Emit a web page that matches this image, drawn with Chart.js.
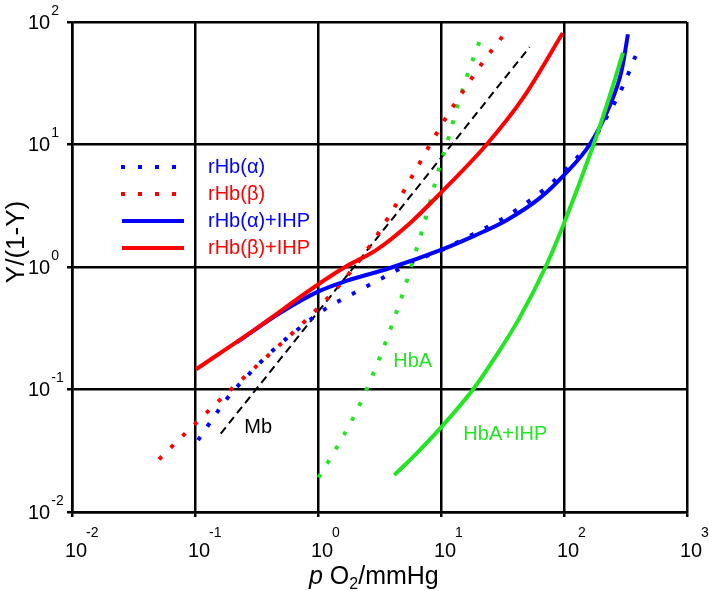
<!DOCTYPE html>
<html>
<head>
<meta charset="utf-8">
<script src="https://cdn.jsdelivr.net/npm/chart.js@4.4.0/dist/chart.umd.min.js"></script>
<style>
  html, body { margin: 0; padding: 0; background: #fff; }
  #wrap { width: 709px; height: 591px; }
</style>
</head>
<body>
<div id="wrap"><canvas id="hill-chart" width="709" height="591"></canvas></div>
<script>
// Hill plot: pO2 (mmHg) against Y/(1-Y)
var decades = [0.01, 0.1, 1, 10, 100, 1000]
var yDecades = [0.01, 0.1, 1, 10, 100]

var alphaP = [0.106, 0.181, 0.274, 0.426, 0.687, 1.13, 1.95, 3.42, 5.92, 10.5, 18.2, 31.6, 53.3, 86.7, 134, 167, 228, 305, 388]
var alphaY = [0.0386, 0.0836, 0.133, 0.207, 0.310, 0.451, 0.610, 0.824, 1.10, 1.40, 1.85, 2.48, 3.52, 5.24, 8.22, 10.4, 17.5, 30.7, 55.0]

var betaP = [0.0509, 0.0995, 0.198, 0.388, 0.780, 1.50, 2.18, 3.11, 4.34, 5.92, 7.98, 11.0, 15.5, 21.9, 31.9]
var betaY = [0.0269, 0.0521, 0.101, 0.187, 0.360, 0.713, 1.14, 1.90, 3.27, 5.65, 9.62, 16.6, 28.3, 47.0, 77.1]

var alphaIhpP = [0.219, 0.501, 1.0, 1.70, 3.80, 10, 18.2, 33.9, 63.1, 97.7, 162, 234, 295, 331]
var alphaIhpY = [0.243, 0.427, 0.63, 0.77, 0.977, 1.38, 1.78, 2.40, 3.63, 5.5, 10, 20.4, 40.7, 79.4]

var betaIhpP = [0.102, 0.316, 1.0, 1.66, 2.99, 5.62, 10, 23.5, 46.5, 97.7]
var betaIhpY = [0.146, 0.316, 0.72, 1.0, 1.38, 2.29, 4.05, 10, 24.0, 81.3]

var hbaP = [1.01, 1.39, 1.89, 2.47, 3.13, 3.90, 4.79, 5.81, 6.93, 8.20, 9.64, 11.6, 13.7, 16.6, 20.5]
var hbaY = [0.0191, 0.0324, 0.0562, 0.0989, 0.176, 0.316, 0.571, 1.06, 1.90, 3.48, 6.35, 11.6, 21.1, 38.3, 68.9]

var hbaIhpP = [4.17, 6.31, 10, 18.2, 28.2, 42.7, 70.8, 97.7, 174, 234, 302]
var hbaIhpY = [0.020, 0.030, 0.049, 0.1, 0.19, 0.372, 1.0, 2.14, 10, 24.5, 56.2]

var mbP = [0.162, 52.5]
var mbY = [0.0437, 62.4]

var legendLabels = ['rHb(\u03b1)', 'rHb(\u03b2)', 'rHb(\u03b1)+IHP', 'rHb(\u03b2)+IHP']
var notes = [
  { text: 'Mb', x: 0.252, y: 0.0439, color: '#000' },
  { text: 'HbA', x: 4.09, y: 0.153, color: '#22e622' },
  { text: 'HbA+IHP', x: 15.2, y: 0.0387, color: '#22e622' }
]

var BLUE = '#0000ff', RED = '#ff0000', GREEN = '#22e622'
var FONT = '"Liberation Sans", Arial, sans-serif'

function pts(xs, ys) {
  return xs.map((x, i) => ({ x: x, y: ys[i] }))
}

function line(label, xs, ys, color, dash, width) {
  return {
    label: label,
    data: pts(xs, ys),
    borderColor: color,
    borderWidth: width,
    borderDash: dash,
    pointRadius: 0,
    fill: false,
    cubicInterpolationMode: 'monotone'
  }
}

var DOTS = [4, 12.5]

var datasets = [
  line('rHb(β)+IHP', betaIhpP, betaIhpY, RED, [], 4),
  line('HbA+IHP', hbaIhpP, hbaIhpY, GREEN, [], 4),
  line('rHb(α)+IHP', alphaIhpP, alphaIhpY, BLUE, [], 4),
  line('rHb(β)', betaP, betaY, RED, DOTS, 4),
  line('HbA', hbaP, hbaY, GREEN, DOTS, 4),
  line('rHb(α)', alphaP, alphaY, BLUE, DOTS, 4),
  line('Mb', mbP, mbY, '#000', [8, 5], 2)
]

// legend rows: [dataset index, colour]
var legendRows = [[5, BLUE], [3, RED], [2, BLUE], [0, RED]]

var decorations = {
  id: 'decorations',
  afterDraw: function (chart) {
    var ctx = chart.ctx
    var xs = chart.scales.x, ys = chart.scales.y
    ctx.save()
    ctx.fillStyle = '#000'

    // y tick labels 10^n
    yDecades.forEach((v) => {
      var py = ys.getPixelForValue(v)
      var e = String(Math.round(Math.log10(v)))
      ctx.font = '20px ' + FONT
      ctx.textBaseline = 'middle'
      ctx.textAlign = 'left'
      ctx.fillText('10', 28, py + 1)
      var w = ctx.measureText('10').width
      ctx.font = '14px ' + FONT
      ctx.fillText(e, 28 + w + 1, py - 11)
    })

    // x tick labels 10^n
    decades.forEach((v) => {
      var px = xs.getPixelForValue(v)
      var e = String(Math.round(Math.log10(v)))
      ctx.font = '20px ' + FONT
      ctx.textBaseline = 'alphabetic'
      ctx.textAlign = 'center'
      ctx.fillText('10', px + 4, 557)
      var w = ctx.measureText('10').width
      ctx.font = '14px ' + FONT
      ctx.textAlign = 'left'
      ctx.fillText(e, px + 3 + w / 2, 537)
    })

    // x axis title: p O2/mmHg
    var x0 = 309, base = 584
    ctx.textAlign = 'left'
    ctx.font = 'italic 25px ' + FONT
    ctx.fillText('p', x0, base)
    x0 += ctx.measureText('p').width
    ctx.font = '25px ' + FONT
    ctx.fillText(' O', x0, base)
    x0 += ctx.measureText(' O').width
    ctx.font = '16px ' + FONT
    ctx.fillText('2', x0, base + 5)
    x0 += ctx.measureText('2').width
    ctx.font = '25px ' + FONT
    ctx.fillText('/mmHg', x0, base)

    // y axis title
    ctx.save()
    ctx.translate(24, 242)
    ctx.rotate(-Math.PI / 2)
    ctx.textAlign = 'center'
    ctx.textBaseline = 'alphabetic'
    ctx.font = '26px ' + FONT
    ctx.fillText('Y/(1-Y)', 0, 0)
    ctx.restore()

    // legend inside the plot
    legendRows.forEach((row, i) => {
      var ds = chart.data.datasets[row[0]]
      var y = 167 + i * 27
      ctx.beginPath()
      ctx.strokeStyle = row[1]
      ctx.lineWidth = 4
      ctx.setLineDash(ds.borderDash.length ? [4, 13] : [])
      ctx.moveTo(ds.borderDash.length ? 121 : 122, y)
      ctx.lineTo(184, y)
      ctx.stroke()
      ctx.setLineDash([])
      ctx.fillStyle = row[1]
      ctx.font = '20px ' + FONT
      ctx.textAlign = 'left'
      ctx.textBaseline = 'middle'
      ctx.fillText(legendLabels[i], 208, y)
    })

    // curve notes
    notes.forEach((n) => {
      ctx.fillStyle = n.color
      ctx.font = '20px ' + FONT
      ctx.textAlign = 'left'
      ctx.textBaseline = 'alphabetic'
      ctx.fillText(n.text, xs.getPixelForValue(n.x), ys.getPixelForValue(n.y))
    })
    ctx.restore()
  }
}

function axis(min, max, ticks, size, key) {
  return {
    type: 'logarithmic',
    min: min,
    max: max,
    afterBuildTicks: function (a) { a.ticks = ticks.map(v => ({ value: v })) },
    afterFit: function (a) { a[key] = size },
    ticks: { display: false },
    grid: { color: '#000', lineWidth: 2.5, tickLength: 5, drawTicks: true },
    border: { color: '#000', width: 2.5 }
  }
}

var ctx = document.getElementById('hill-chart').getContext('2d')

var hillChart = new Chart(ctx, {
  type: 'line',
  data: { datasets: datasets },
  options: {
    responsive: false,
    animation: false,
    devicePixelRatio: 1,
    layout: { padding: { top: 22, right: 22, left: 0, bottom: 0 } },
    plugins: { legend: { display: false }, tooltip: { enabled: false } },
    scales: {
      x: axis(0.01, 1000, decades, 79, 'height'),
      y: axis(0.01, 100, yDecades, 72, 'width')
    }
  },
  plugins: [decorations]
})
</script>
</body>
</html>
